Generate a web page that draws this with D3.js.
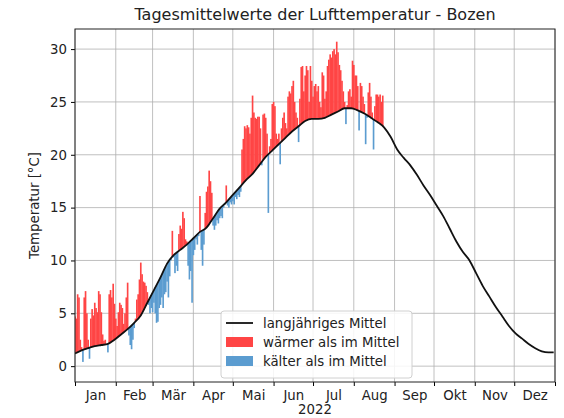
<!DOCTYPE html>
<html>
<head>
<meta charset="utf-8">
<script src="https://cdn.jsdelivr.net/npm/d3@7"></script>
<style>
  body { margin: 0; background: #fff; }
  text { font-family: "DejaVu Sans", sans-serif; fill: #222; }
</style>
</head>
<body>
<script>
    //Declare consts/global variables
        const width = 564;
        const height = 418;
        const margin = {top: 29, right: 9, bottom: 36, left: 75};
        const fs = 13.3;

    //Data - long term mean, read every 5 days (day index from 1 Jan)
        const meanDays = [0,5,10,15,20,25,30,35,40,45,50,55,60,65,70,75,80,85,90,95,
            100,105,110,115,120,125,130,135,140,145,150,155,160,165,170,175,180,185,190,195,
            200,205,210,215,220,225,230,235,240,245,250,255,260,265,270,275,280,285,290,295,
            300,305,310,315,320,325,330,335,340,345,350,355,360,364];
        const meanValues = [1.2,1.5,1.7,1.9,2.0,2.1,2.5,3.0,3.5,4.1,4.8,6.0,7.2,8.4,9.7,10.5,11.0,11.5,12.1,12.7,
            13.1,14.0,14.9,15.5,16.2,16.9,17.6,18.2,19.0,19.8,20.4,21.0,21.6,22.2,22.7,23.2,23.4,23.4,23.5,23.8,
            24.1,24.4,24.4,24.2,23.9,23.5,23.1,22.6,21.7,20.5,19.7,19.0,18.1,17.1,16.2,15.2,14.2,13.0,11.8,10.8,
            10.0,8.8,7.6,6.6,5.6,4.7,3.8,3.1,2.6,2.1,1.7,1.4,1.3,1.3];

    //Data - daily means 2022, starting 1 Jan
        const temps2022 = [
            4.7,4.5,6.8,6.5,2.5,1.8,0.4,6.5,7.1,5.0,
            2.5,0.7,4.5,5.4,4.8,6.0,5.5,5.1,7.1,6.8,
            5.1,3.0,2.4,2.5,2.0,1.3,6.8,7.2,6.5,7.8,
            5.9,4.5,3.8,5.1,6.0,5.8,5.5,4.0,5.0,6.5,
            7.9,2.9,2.0,1.6,2.5,3.6,4.5,6.3,6.8,8.2,
            9.8,8.7,8.0,7.9,7.6,7.0,5.8,5.0,5.5,5.1,
            6.0,5.0,4.1,4.2,5.5,5.8,6.5,5.5,6.8,7.0,
            8.0,6.5,8.5,10.0,12.8,10.3,8.8,9.5,9.0,12.5,
            13.3,13.0,14.6,14.0,12.0,11.8,9.5,8.2,9.0,6.0,
            10.5,11.0,12.0,11.5,12.3,16.1,11.0,9.5,11.5,14.5,
            16.5,17.0,18.5,17.5,16.4,13.3,12.9,13.3,13.8,13.5,
            14.0,14.2,14.0,15.0,15.3,17.1,15.2,15.0,15.5,15.3,
            15.6,15.3,16.0,15.8,16.2,16.0,16.5,20.5,21.5,22.7,
            22.5,22.8,22.6,22.0,23.5,25.6,24.0,23.5,23.4,23.6,
            23.6,22.5,19.0,23.8,23.9,23.5,22.0,14.5,20.8,21.5,
            24.8,25.0,24.6,22.0,21.5,22.0,19.1,22.5,23.5,24.0,
            23.0,22.5,25.5,26.0,25.8,26.5,27.0,25.0,24.0,23.5,
            21.2,25.3,28.3,28.4,26.0,27.5,28.4,28.0,25.0,28.4,
            27.0,25.5,26.5,26.7,26.0,26.5,25.0,24.5,27.8,27.5,
            25.3,26.0,28.4,29.0,29.5,29.2,29.8,30.0,29.5,30.7,
            29.7,28.5,28.0,27.0,26.0,25.0,22.9,24.7,26.0,26.2,
            25.5,28.9,28.5,27.5,27.5,26.5,22.3,26.8,26.5,25.5,
            24.8,21.0,23.5,25.9,26.8,25.5,24.0,20.5,24.6,25.7,
            25.7,25.5,25.7,25.0,25.6];

        const monthLabels = ["Jan","Feb","Mär","Apr","Mai","Jun","Jul","Aug","Sep","Okt","Nov","Dez"];
        const yTicks = [0,5,10,15,20,25,30];
        const legendLabels = ["langjähriges Mittel","wärmer als im Mittel","kälter als im Mittel"];

        const red = "#ff4545";
        const blue = "#5b9cd0";
        const dayDate = d => new Date(2022, 0, 1 + d);

    //Scales
        const xScale = d3.scaleTime()
                        .domain([new Date(2022,0,1), new Date(2023,0,1)])
                        .range([margin.left, width - margin.right]);

        const yScale = d3.scaleLinear()
                        .domain([-1.5, 31.9])
                        .range([height - margin.bottom, margin.top]);

        // mean curve as a piecewise scale, used for the base of the bars
        const meanScale = d3.scaleLinear().domain(meanDays).range(meanValues);

    //SVG
        const svg = d3.select("body")
                    .append("svg")
                    .attr("width", width)
                    .attr("height", height);

        svg.append("clipPath").attr("id", "plot")
            .append("rect")
            .attr("x", margin.left).attr("y", margin.top)
            .attr("width", width - margin.left - margin.right)
            .attr("height", height - margin.top - margin.bottom);

        const months = d3.timeMonth.range(new Date(2022,0,1), new Date(2023,0,2));

    //Grid
        svg.append("g").selectAll("line")
            .data(yTicks).enter().append("line")
            .attr("x1", margin.left).attr("x2", width - margin.right)
            .attr("y1", d => yScale(d)).attr("y2", d => yScale(d))
            .attr("stroke", "#b0b0b0").attr("stroke-width", 0.8);

        svg.append("g").selectAll("line")
            .data(months).enter().append("line")
            .attr("x1", d => xScale(d)).attr("x2", d => xScale(d))
            .attr("y1", margin.top).attr("y2", height - margin.bottom)
            .attr("stroke", "#b0b0b0").attr("stroke-width", 0.8);

    //Bars from the mean to the day value
        const dayW = xScale(dayDate(1)) - xScale(dayDate(0));
        svg.append("g").attr("clip-path", "url(#plot)")
            .selectAll("rect")
            .data(temps2022)
            .enter()
            .append("rect")
            .attr("x", (d, i) => xScale(dayDate(i)) - dayW * 0.6)
            .attr("width", dayW * 1.25)
            .attr("y", (d, i) => yScale(Math.max(d, meanScale(i))))
            .attr("height", (d, i) => Math.abs(yScale(d) - yScale(meanScale(i))))
            .attr("fill", (d, i) => d >= meanScale(i) ? red : blue);

    //Mean line
        const line = d3.line()
            .x((d, i) => xScale(dayDate(meanDays[i])))
            .y(d => yScale(d))
            .curve(d3.curveMonotoneX);

        svg.append("path")
            .datum(meanValues)
            .attr("clip-path", "url(#plot)")
            .attr("d", line)
            .attr("fill", "none")
            .attr("stroke", "#111")
            .attr("stroke-width", 1.8);

    //Axes
        const bottomAxis = d3.axisBottom(xScale)
            .tickValues(months)
            .tickSize(4)
            .tickFormat("");

        const labelAxis = d3.axisBottom(xScale)
            .tickValues(months.slice(0, 12).map(m => new Date((+m + +d3.timeMonth.offset(m, 1)) / 2)))
            .tickSize(0)
            .tickPadding(9)
            .tickFormat((d, i) => monthLabels[i]);

        const leftAxis = d3.axisLeft(yScale)
            .tickValues(yTicks)
            .tickSize(4)
            .tickPadding(4);

        const gx = svg.append("g")
            .attr("transform", "translate(0," + (height - margin.bottom) + ")")
            .call(bottomAxis);
        gx.select(".domain").remove();

        const gl = svg.append("g")
            .attr("transform", "translate(0," + (height - margin.bottom) + ")")
            .call(labelAxis);
        gl.select(".domain").remove();
        gl.selectAll("text").attr("font-size", fs).style("font-family", "DejaVu Sans");

        const gy = svg.append("g")
            .attr("transform", "translate(" + margin.left + ",0)")
            .call(leftAxis);
        gy.select(".domain").remove();
        gy.selectAll("text").attr("font-size", fs).style("font-family", "DejaVu Sans");

        // frame
        svg.append("rect")
            .attr("x", margin.left).attr("y", margin.top)
            .attr("width", width - margin.left - margin.right)
            .attr("height", height - margin.top - margin.bottom)
            .attr("fill", "none").attr("stroke", "#222").attr("stroke-width", 1);

    //Titles
        svg.append("text")
            .attr("x", (margin.left + width - margin.right) / 2)
            .attr("y", 20)
            .attr("text-anchor", "middle")
            .attr("font-size", 16)
            .text("Tagesmittelwerte der Lufttemperatur - Bozen");

        svg.append("text")
            .attr("x", (margin.left + width - margin.right) / 2)
            .attr("y", 414)
            .attr("text-anchor", "middle")
            .attr("font-size", fs)
            .text("2022");

        svg.append("text")
            .attr("transform", "translate(39," + ((margin.top + height - margin.bottom) / 2) + ") rotate(-90)")
            .attr("text-anchor", "middle")
            .attr("font-size", fs)
            .text("Temperatur [°C]");

    //Legend
        const lg = svg.append("g").attr("transform", "translate(221,311)");
        lg.append("rect")
            .attr("width", 191).attr("height", 67)
            .attr("rx", 3)
            .attr("fill", "#fff").attr("fill-opacity", 0.85)
            .attr("stroke", "#d0d0d0");

        lg.append("line")
            .attr("x1", 5).attr("x2", 32).attr("y1", 12).attr("y2", 12)
            .attr("stroke", "#111").attr("stroke-width", 1.8);
        lg.append("rect").attr("x", 5).attr("y", 26).attr("width", 27).attr("height", 10).attr("fill", red);
        lg.append("rect").attr("x", 5).attr("y", 45).attr("width", 27).attr("height", 10).attr("fill", blue);

        lg.selectAll("text.lab")
            .data(legendLabels)
            .enter()
            .append("text")
            .attr("class", "lab")
            .attr("x", 42)
            .attr("y", (d, i) => 12 + i * 19)
            .attr("dy", "0.35em")
            .attr("font-size", fs)
            .text(d => d);
</script>
</body>
</html>
